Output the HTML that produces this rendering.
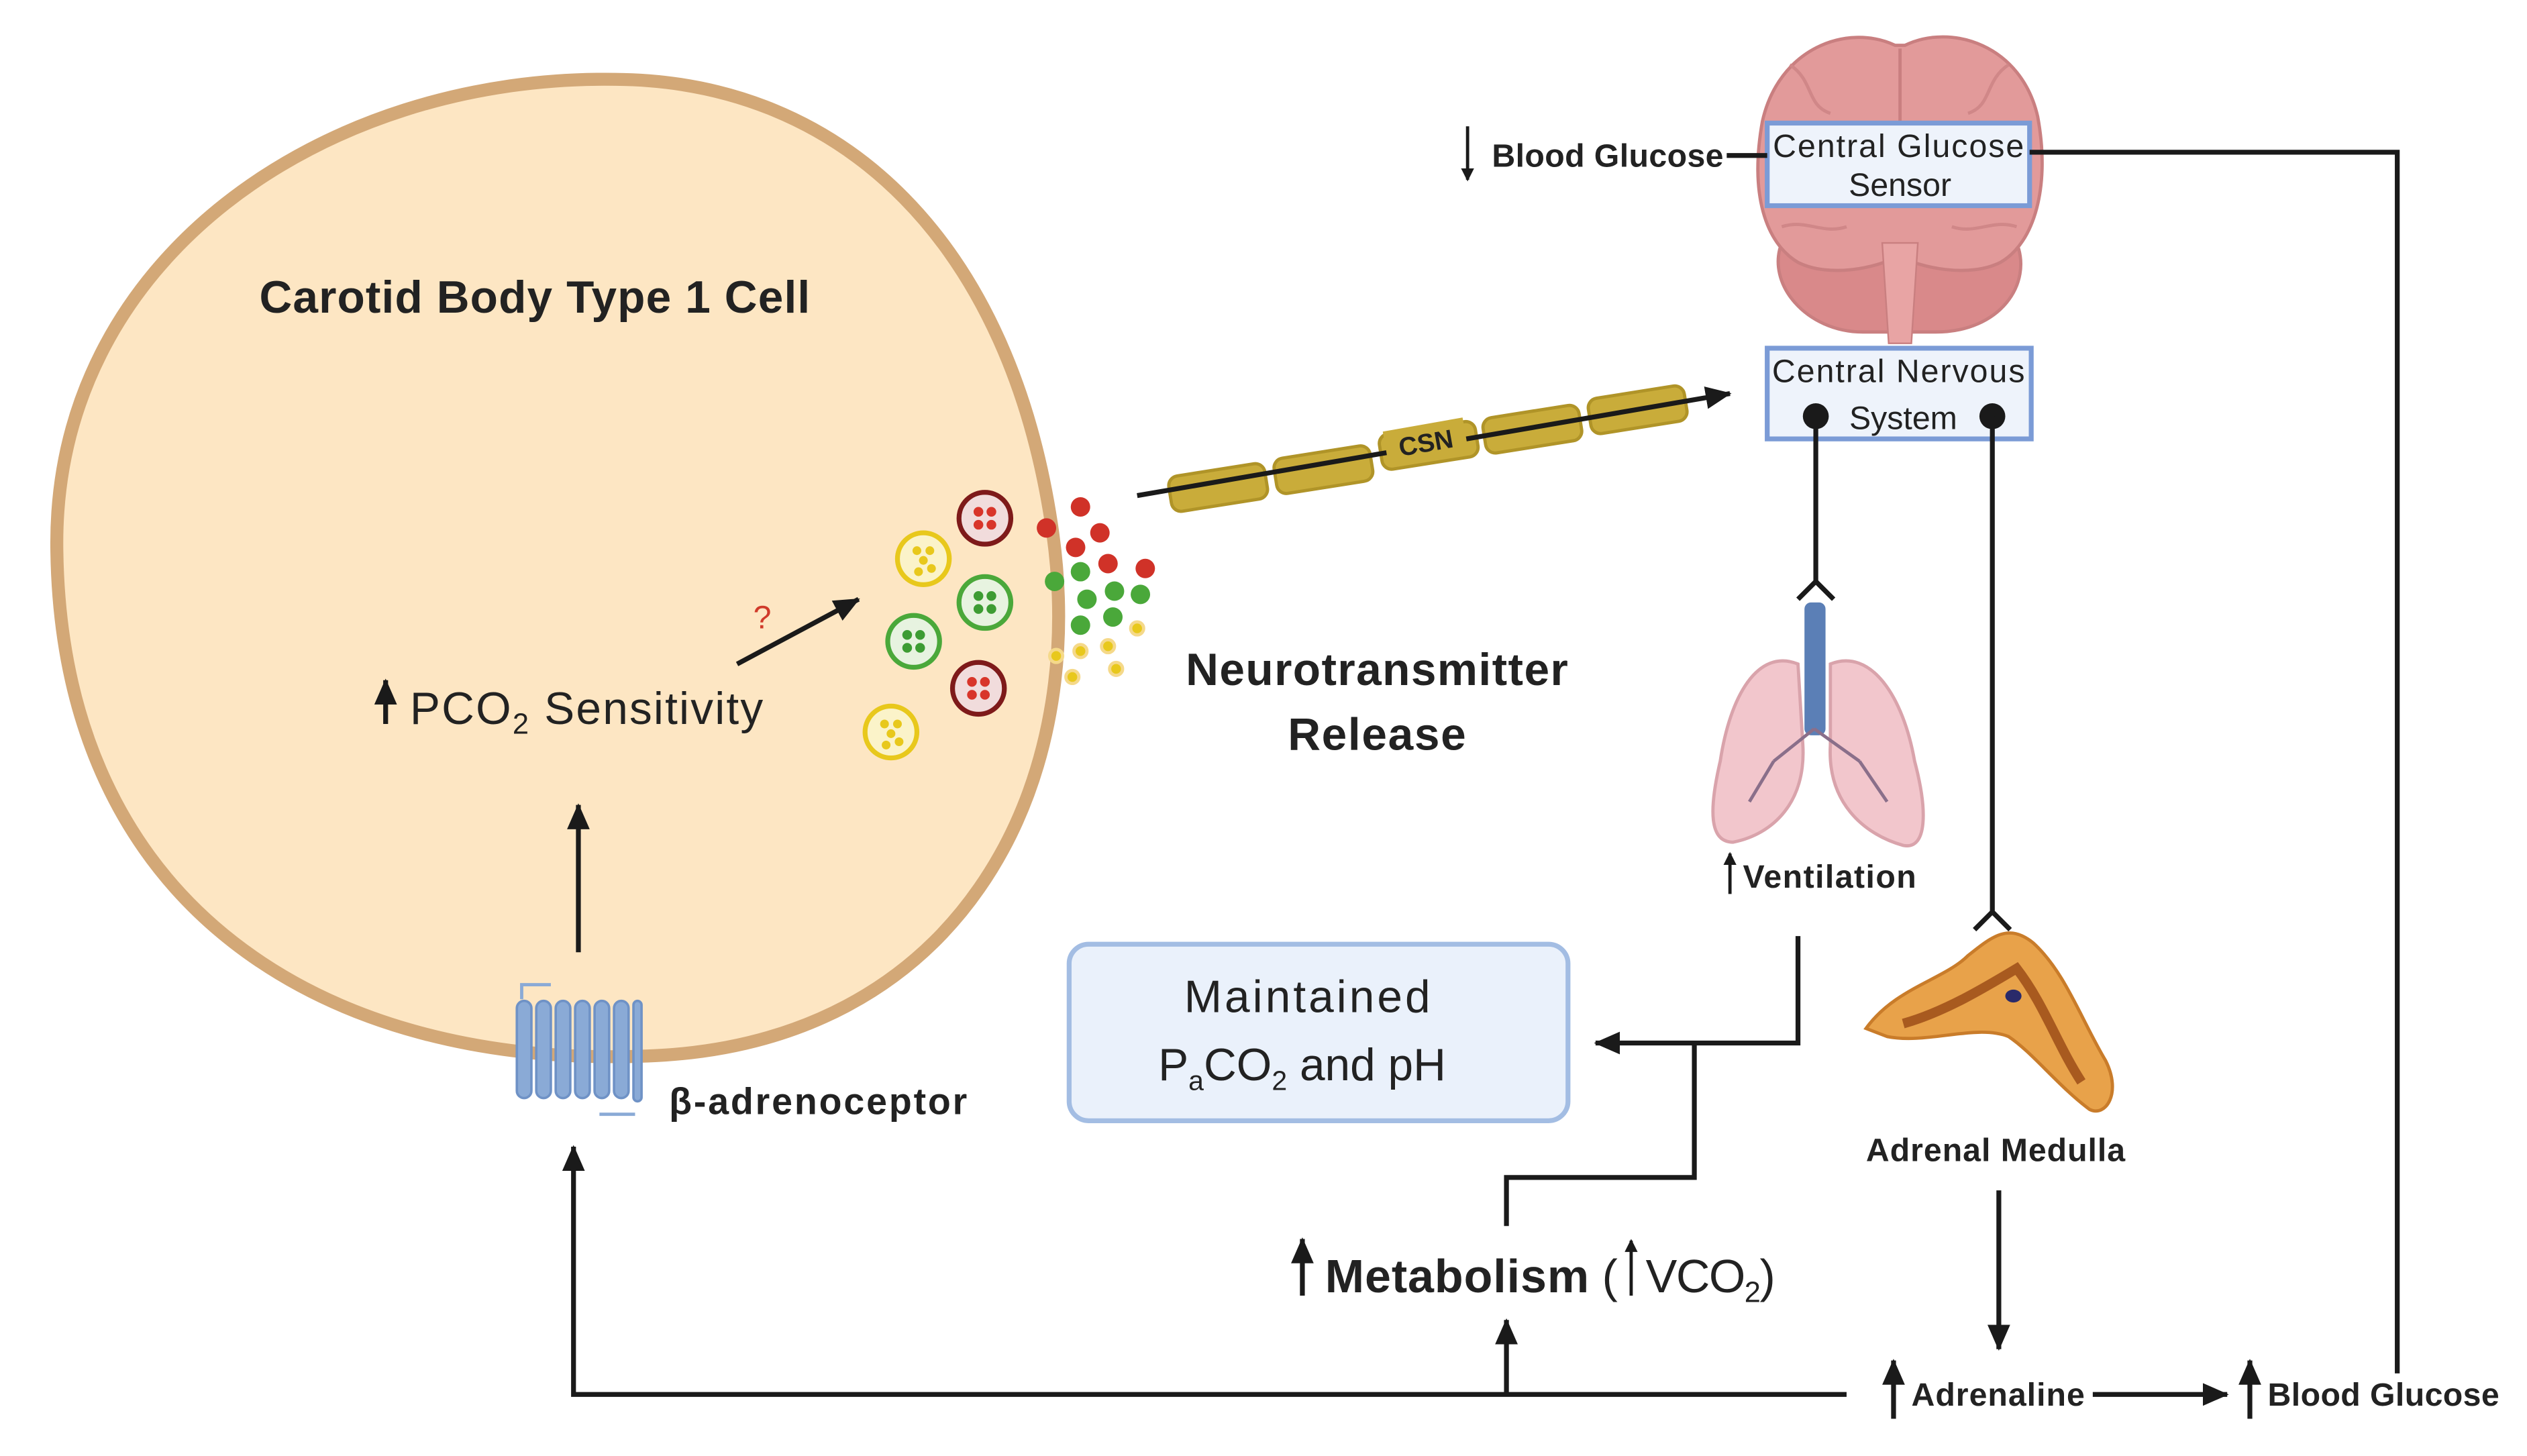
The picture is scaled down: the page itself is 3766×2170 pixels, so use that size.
<!DOCTYPE html>
<html><head><meta charset="utf-8"><style>
html,body{margin:0;padding:0;background:#fff;}
svg{display:block;}
text{font-family:"Liberation Sans",sans-serif;fill:#222;}
.b{font-weight:bold;}
</style></head><body>
<svg width="3766" height="2170" viewBox="0 0 1560 899" xmlns="http://www.w3.org/2000/svg">
<defs>
<marker id="ah" markerWidth="8" markerHeight="8" refX="7" refY="4" orient="auto" markerUnits="userSpaceOnUse" viewBox="0 0 8 8"><path d="M0,0 L8,4 L0,8 Z" fill="#1a1a1a"/></marker>
<marker id="ahL" markerWidth="16" markerHeight="14" refX="15" refY="7" orient="auto" markerUnits="userSpaceOnUse"><path d="M0,0 L16,7 L0,14 Z" fill="#1a1a1a"/></marker>
</defs>
<!-- cell -->
<path d="M380,49 C520,50 625,150 650,330 C672,490 590,645 400,652 C200,660 38,560 35,340 C32,160 200,46 380,49 Z" fill="#fde6c3" stroke="#d3a877" stroke-width="8"/>
<text x="160" y="193" class="b" font-size="28" textLength="340">Carotid Body Type 1 Cell</text>
<line x1="238" y1="447" x2="238" y2="420" stroke="#1a1a1a" stroke-width="3" marker-end="url(#ahL)"/>
<text x="253" y="447" font-size="28" textLength="218">PCO<tspan font-size="18" dy="6">2</tspan><tspan dy="-6"> Sensitivity</tspan></text>
<line x1="455" y1="410" x2="530" y2="370" stroke="#1a1a1a" stroke-width="3" marker-end="url(#ahL)"/>
<text x="465" y="388" font-size="20" style="fill:#d03a2a">?</text>
<line x1="357" y1="588" x2="357" y2="497" stroke="#1a1a1a" stroke-width="3" marker-end="url(#ahL)"/>
<!-- receptor -->
<g fill="#8aaad6" stroke="#6f92c6" stroke-width="1.5">
<rect x="319" y="618" width="9" height="60" rx="4.5"/><rect x="331" y="618" width="9" height="60" rx="4.5"/><rect x="343" y="618" width="9" height="60" rx="4.5"/><rect x="355" y="618" width="9" height="60" rx="4.5"/><rect x="367" y="618" width="9" height="60" rx="4.5"/><rect x="379" y="618" width="9" height="60" rx="4.5"/><rect x="391" y="618" width="5" height="62" rx="2.5"/>
</g>
<path d="M322,617 L322,608 L340,608 M370,688 L392,688" stroke="#8aaad6" stroke-width="2" fill="none"/>
<text x="413" y="688" class="b" font-size="23" textLength="184">β-adrenoceptor</text>
<!-- vesicles -->
<g stroke-width="3">
<circle cx="570" cy="345" r="16" fill="#fbf3c9" stroke="#e8c81c"/>
<circle cx="608" cy="320" r="16" fill="#f1dcdc" stroke="#7e1a1a"/>
<circle cx="608" cy="372" r="16" fill="#e7f3e0" stroke="#4aa83a"/>
<circle cx="564" cy="396" r="16" fill="#e7f3e0" stroke="#4aa83a"/>
<circle cx="604" cy="425" r="16" fill="#f1dcdc" stroke="#7e1a1a"/>
<circle cx="550" cy="452" r="16" fill="#fbf3c9" stroke="#e8c81c"/>
</g>
<g fill="#d8352a"><circle cx="604" cy="316" r="3"/><circle cx="612" cy="316" r="3"/><circle cx="604" cy="324" r="3"/><circle cx="612" cy="324" r="3"/><circle cx="600" cy="421" r="3"/><circle cx="608" cy="421" r="3"/><circle cx="600" cy="429" r="3"/><circle cx="608" cy="429" r="3"/></g>
<g fill="#3d9c33"><circle cx="604" cy="368" r="3"/><circle cx="612" cy="368" r="3"/><circle cx="604" cy="376" r="3"/><circle cx="612" cy="376" r="3"/><circle cx="560" cy="392" r="3"/><circle cx="568" cy="392" r="3"/><circle cx="560" cy="400" r="3"/><circle cx="568" cy="400" r="3"/></g>
<g fill="#e8c81c"><circle cx="566" cy="340" r="2.7"/><circle cx="574" cy="340" r="2.7"/><circle cx="570" cy="346" r="2.7"/><circle cx="575" cy="351" r="2.7"/><circle cx="567" cy="353" r="2.7"/><circle cx="546" cy="447" r="2.7"/><circle cx="554" cy="447" r="2.7"/><circle cx="550" cy="453" r="2.7"/><circle cx="555" cy="458" r="2.7"/><circle cx="547" cy="460" r="2.7"/></g>
<g fill="#d03228"><circle cx="667" cy="313" r="6"/><circle cx="646" cy="326" r="6"/><circle cx="679" cy="329" r="6"/><circle cx="664" cy="338" r="6"/><circle cx="684" cy="348" r="6"/><circle cx="707" cy="351" r="6"/></g>
<g fill="#4aa83a"><circle cx="667" cy="353" r="6"/><circle cx="651" cy="359" r="6"/><circle cx="688" cy="365" r="6"/><circle cx="704" cy="367" r="6"/><circle cx="671" cy="370" r="6"/><circle cx="687" cy="381" r="6"/><circle cx="667" cy="386" r="6"/></g>
<g fill="#e8c81c" stroke="#f5d98a" stroke-width="2"><circle cx="702" cy="388" r="4"/><circle cx="684" cy="399" r="4"/><circle cx="667" cy="402" r="4"/><circle cx="652" cy="405" r="4"/><circle cx="689" cy="413" r="4"/><circle cx="662" cy="418" r="4"/></g>
<!-- CSN -->
<g fill="#c9ac3a" stroke="#b09428" stroke-width="2">
<rect x="722" y="290" width="60" height="22" rx="6" transform="rotate(-9 752 301)"/>
<rect x="787" y="279" width="60" height="22" rx="6" transform="rotate(-9 817 290)"/>
<rect x="852" y="264" width="60" height="22" rx="6" transform="rotate(-9 882 275)"/>
<rect x="916" y="254" width="60" height="22" rx="6" transform="rotate(-9 946 265)"/>
<rect x="981" y="242" width="60" height="22" rx="6" transform="rotate(-9 1011 253)"/>
</g>
<line x1="702" y1="306" x2="1068" y2="243" stroke="#1a1a1a" stroke-width="3" marker-end="url(#ahL)"/>
<rect x="855" y="262" width="50" height="20" fill="#c9ac3a" transform="rotate(-10 880 272)"/>
<text x="880" y="279" font-size="16" class="b" text-anchor="middle" transform="rotate(-10 880 272)">CSN</text>
<text x="850" y="423" class="b" font-size="28" text-anchor="middle" textLength="236">Neurotransmitter</text>
<text x="850" y="463" class="b" font-size="28" text-anchor="middle" textLength="110">Release</text>
<!-- brain -->
<g>
<path d="M1100,150 C1090,175 1115,205 1150,205 L1195,205 C1235,205 1255,175 1245,150 Z" fill="#d9898a" stroke="#c97f80" stroke-width="2"/>
<path d="M1170,28 C1140,14 1098,30 1088,75 C1080,120 1090,150 1110,162 C1130,172 1160,165 1172,158 C1185,165 1215,172 1235,162 C1256,150 1266,115 1258,72 C1248,28 1205,14 1176,28 Z" fill="#e29a9a" stroke="#c97f80" stroke-width="2"/>
<path d="M1162,150 L1184,150 L1180,212 L1166,212 Z" fill="#e8a4a4" stroke="#c97f80"/>
<line x1="1173" y1="30" x2="1173" y2="78" stroke="#c97f80" stroke-width="2"/>
<path d="M1105,40 C1120,50 1115,65 1130,70 M1240,40 C1225,50 1230,65 1215,70 M1100,140 C1115,135 1125,145 1140,140 M1245,140 C1230,135 1220,145 1205,140" fill="none" stroke="#d08788" stroke-width="2"/>
</g>
<rect x="1091" y="76" width="162" height="51" fill="#eef3fb" stroke="#7b9bd6" stroke-width="3"/>
<text x="1172" y="97" font-size="20" text-anchor="middle" textLength="155">Central Glucose</text>
<text x="1173" y="121" font-size="20" text-anchor="middle">Sensor</text>
<line x1="906" y1="78" x2="906" y2="111" stroke="#1a1a1a" stroke-width="2" marker-end="url(#ah)"/>
<text x="921" y="103" class="b" font-size="20" textLength="143">Blood Glucose</text>
<line x1="1066" y1="96" x2="1091" y2="96" stroke="#1a1a1a" stroke-width="3"/>
<polyline points="1253,94 1480,94 1480,848" fill="none" stroke="#1a1a1a" stroke-width="3"/>
<!-- CNS -->
<rect x="1091" y="215" width="163" height="56" fill="#eef3fb" stroke="#7b9bd6" stroke-width="3"/>
<text x="1172" y="236" font-size="20" text-anchor="middle" textLength="156">Central Nervous</text>
<text x="1175" y="265" font-size="20" text-anchor="middle">System</text>
<circle cx="1121" cy="257" r="8" fill="#1a1a1a"/><circle cx="1230" cy="257" r="8" fill="#1a1a1a"/>
<line x1="1121" y1="257" x2="1121" y2="360" stroke="#1a1a1a" stroke-width="3"/>
<polyline points="1110,370 1121,359 1132,370" fill="none" stroke="#1a1a1a" stroke-width="3"/>
<line x1="1230" y1="257" x2="1230" y2="563" stroke="#1a1a1a" stroke-width="3"/>
<polyline points="1219,574 1230,563 1241,574" fill="none" stroke="#1a1a1a" stroke-width="3"/>
<!-- lungs -->
<path d="M1110,410 C1085,400 1068,430 1062,470 C1055,500 1055,520 1070,520 C1095,515 1115,495 1113,460 Z" fill="#f2c6cc" stroke="#d9a3ab" stroke-width="2"/>
<path d="M1130,410 C1155,400 1175,430 1182,470 C1190,500 1190,525 1175,522 C1150,515 1128,495 1130,460 Z" fill="#f2c6cc" stroke="#d9a3ab" stroke-width="2"/>
<rect x="1114" y="372" width="13" height="82" rx="4" fill="#5b7fb6"/>
<path d="M1120,450 L1095,470 M1120,450 L1148,470 M1095,470 L1080,495 M1148,470 L1165,495" stroke="#8a6f8a" stroke-width="2" fill="none"/>
<line x1="1068" y1="552" x2="1068" y2="527" stroke="#1a1a1a" stroke-width="2" marker-end="url(#ah)"/>
<text x="1076" y="548" class="b" font-size="20" textLength="107">Ventilation</text>
<!-- adrenal -->
<path d="M1152,635 C1170,610 1200,605 1215,590 C1230,578 1240,570 1255,582 C1275,600 1285,630 1300,655 C1310,675 1300,690 1290,685 C1270,670 1255,650 1240,640 C1220,632 1190,645 1165,640 Z" fill="#e8a24a" stroke="#c97c2a" stroke-width="2"/>
<path d="M1175,632 C1200,625 1225,610 1245,598 C1262,620 1270,645 1285,668" fill="none" stroke="#a85a1f" stroke-width="6"/>
<ellipse cx="1243" cy="615" rx="5" ry="4" fill="#2a2a6a"/>
<text x="1232" y="717" class="b" font-size="20" text-anchor="middle" textLength="160">Adrenal Medulla</text>
<!-- maintained box -->
<rect x="660" y="583" width="308" height="109" rx="12" fill="#eaf1fb" stroke="#a3bde3" stroke-width="3"/>
<text x="807" y="625" font-size="28" text-anchor="middle" textLength="152">Maintained</text>
<text x="715" y="667" font-size="28">P<tspan font-size="17" dy="6">a</tspan><tspan dy="-6">CO</tspan><tspan font-size="17" dy="6">2</tspan><tspan dy="-6"> and pH</tspan></text>
<polyline points="1110,578 1110,644 985,644" fill="none" stroke="#1a1a1a" stroke-width="3" marker-end="url(#ahL)"/>
<polyline points="1046,644 1046,727 930,727 930,757" fill="none" stroke="#1a1a1a" stroke-width="3"/>
<!-- metabolism -->
<line x1="804" y1="800" x2="804" y2="765" stroke="#1a1a1a" stroke-width="3" marker-end="url(#ahL)"/>
<text x="818" y="798" class="b" font-size="29" textLength="163">Metabolism</text>
<text x="989" y="798" font-size="29">(</text>
<line x1="1007" y1="800" x2="1007" y2="766" stroke="#1a1a1a" stroke-width="2" marker-end="url(#ah)"/>
<text x="1016" y="798" font-size="29" textLength="80">VCO<tspan font-size="18" dy="6">2</tspan><tspan dy="-6">)</tspan></text>
<!-- bottom -->
<polyline points="1140,861 354,861 354,708" fill="none" stroke="#1a1a1a" stroke-width="3" marker-end="url(#ahL)"/>
<line x1="930" y1="861" x2="930" y2="815" stroke="#1a1a1a" stroke-width="3" marker-end="url(#ahL)"/>
<line x1="1234" y1="735" x2="1234" y2="833" stroke="#1a1a1a" stroke-width="3" marker-end="url(#ahL)"/>
<line x1="1169" y1="876" x2="1169" y2="840" stroke="#1a1a1a" stroke-width="3" marker-end="url(#ahL)"/>
<text x="1180" y="868" class="b" font-size="20" textLength="107">Adrenaline</text>
<line x1="1292" y1="861" x2="1375" y2="861" stroke="#1a1a1a" stroke-width="3" marker-end="url(#ahL)"/>
<line x1="1389" y1="876" x2="1389" y2="840" stroke="#1a1a1a" stroke-width="3" marker-end="url(#ahL)"/>
<text x="1400" y="868" class="b" font-size="20" textLength="143">Blood Glucose</text>
</svg>
</body></html>
